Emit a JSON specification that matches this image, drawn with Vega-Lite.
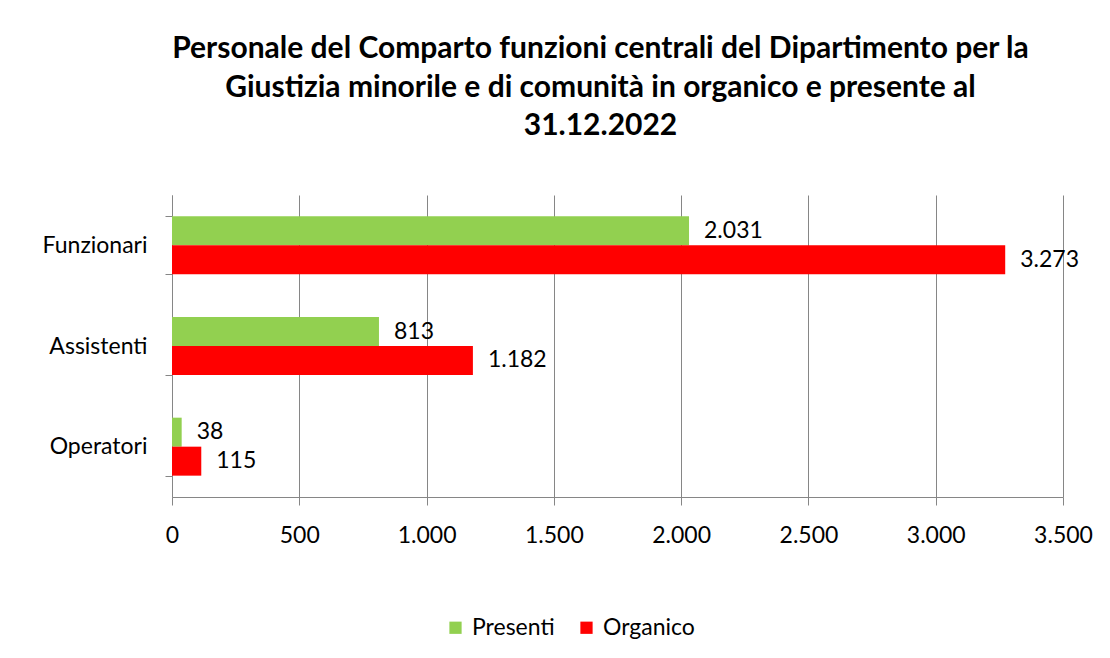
{
  "$schema": "https://vega.github.io/schema/vega-lite/v6.json",
  "width": 891,
  "height": 302,
  "autosize": "none",
  "padding": {"left": 172, "top": 195, "right": 47, "bottom": 161},
  "background": "white",
  "config": {
    "font": "Lato",
    "view": {"stroke": null},
    "locale": {"number": {"decimal": ",", "thousands": ".", "grouping": [3], "currency": ["€", ""]}}
  },
  "title": {
    "text": ["Personale del Comparto funzioni centrali del Dipartimento per la", "Giustizia minorile e di comunità in organico e presente al", "31.12.2022"],
    "font": "Lato",
    "fontSize": 30,
    "fontWeight": "bold",
    "color": "black",
    "lineHeight": 38.5,
    "anchor": "middle",
    "dx": -17,
    "offset": 43
  },
  "data": {
    "values": [
      {"categoria": "Funzionari", "serie": "Presenti", "valore": 2031},
      {"categoria": "Funzionari", "serie": "Organico", "valore": 3273},
      {"categoria": "Assistenti", "serie": "Presenti", "valore": 813},
      {"categoria": "Assistenti", "serie": "Organico", "valore": 1182},
      {"categoria": "Operatori", "serie": "Presenti", "valore": 38},
      {"categoria": "Operatori", "serie": "Organico", "valore": 115}
    ]
  },
  "encoding": {
    "y": {
      "field": "categoria",
      "type": "nominal",
      "sort": ["Funzionari", "Assistenti", "Operatori"],
      "scale": {"paddingInner": 0.424, "paddingOuter": 0.212},
      "axis": {
        "title": null,
        "tickBand": "extent",
        "tickSize": 7,
        "tickColor": "#868686",
        "domainColor": "#868686",
        "labelFontSize": 23,
        "labelColor": "black",
        "labelPadding": 18,
        "grid": false
      }
    },
    "yOffset": {"field": "serie", "type": "nominal", "sort": ["Presenti", "Organico"]},
    "x": {
      "field": "valore",
      "type": "quantitative",
      "scale": {"domain": [0, 3500], "nice": false},
      "axis": {
        "title": null,
        "values": [0, 500, 1000, 1500, 2000, 2500, 3000, 3500],
        "format": ",d",
        "tickSize": 8,
        "tickColor": "#868686",
        "domainColor": "#868686",
        "gridColor": "#868686",
        "gridOpacity": 1,
        "labelFontSize": 23,
        "labelColor": "black",
        "labelPadding": 19,
        "labelFlush": false,
        "labelOverlap": false
      }
    }
  },
  "layer": [
    {
      "mark": {"type": "bar"},
      "encoding": {
        "color": {
          "field": "serie",
          "type": "nominal",
          "scale": {"domain": ["Presenti", "Organico"], "range": ["#92D050", "#FF0000"]},
          "legend": {
            "title": null,
            "orient": "none",
            "direction": "horizontal",
            "legendX": 272,
            "legendY": 421,
            "symbolType": "square",
            "symbolSize": 150,
            "symbolStrokeWidth": 0,
            "labelFontSize": 23,
            "labelColor": "black",
            "columnPadding": 20,
            "labelOffset": 5
          }
        }
      }
    },
    {
      "mark": {"type": "text", "align": "left", "baseline": "middle", "dx": 15, "fontSize": 23, "color": "black"},
      "encoding": {
        "text": {"field": "valore", "type": "quantitative", "format": ",d"}
      }
    }
  ]
}
